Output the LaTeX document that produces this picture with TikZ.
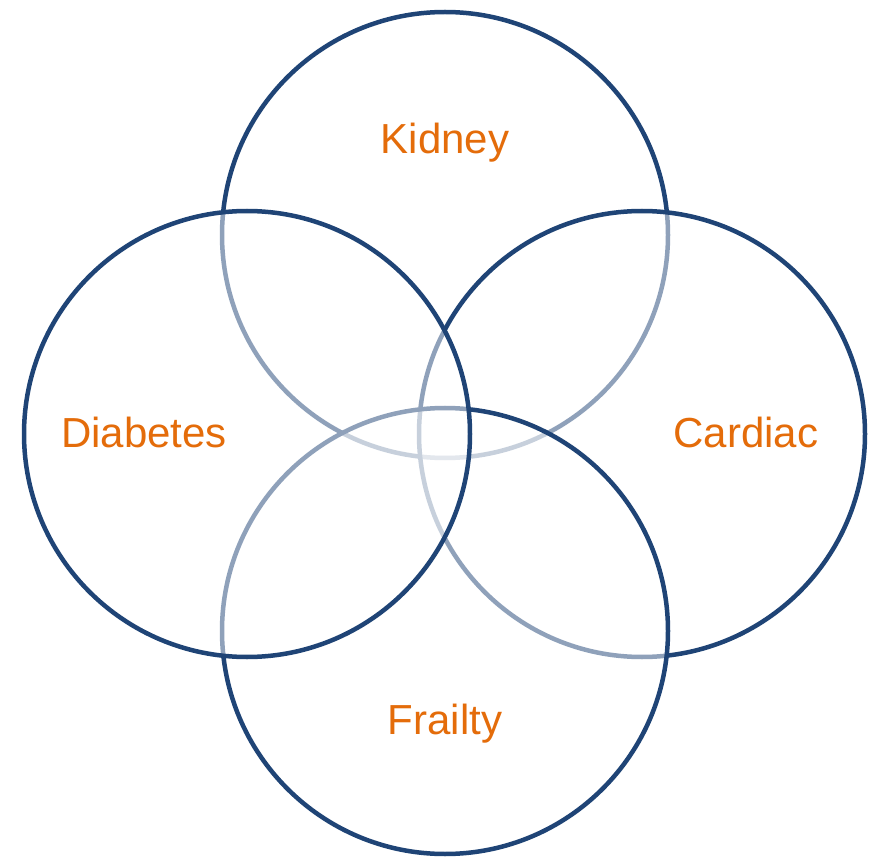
\documentclass[tikz,border=0pt]{standalone}
\usepackage{fontspec}
\setmainfont{Liberation Sans}
\definecolor{ringblue}{HTML}{1F4476}
\definecolor{labelorange}{HTML}{E46C0A}
\begin{document}
\begin{tikzpicture}[x=1pt,y=-1pt,
  ring/.style={circle, draw=ringblue, line width=4.5pt, fill=white, fill opacity=0.5, inner sep=0pt, minimum size=446pt},
  lbl/.style={text=labelorange, font=\fontsize{42}{48}\selectfont, inner sep=0pt}]
\useasboundingbox (0,0) rectangle (870,858);
\node[ring] (kidney) at (445,235) {};
\node[ring] (cardiac) at (642,434) {};
\node[ring] (frailty) at (445,631) {};
\node[ring] (diabetes) at (247,434) {};
\node[lbl] (lk) at (445,143) {Kidney};
\node[lbl] (ld) at (144,432) {Diabetes};
\node[lbl] (lc) at (746,432) {Cardiac};
\node[lbl] (lf) at (445,724) {Frailty};
\end{tikzpicture}
\end{document}
